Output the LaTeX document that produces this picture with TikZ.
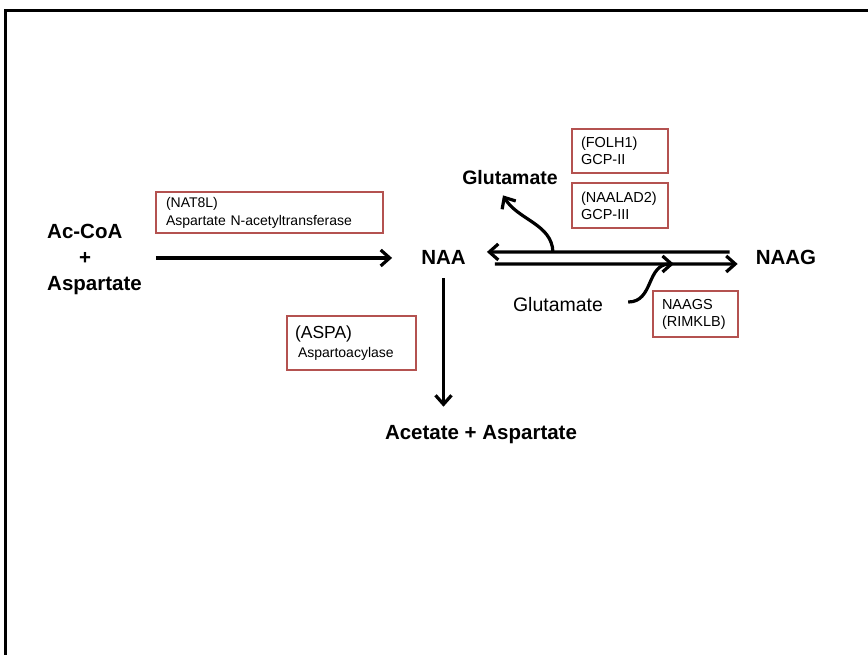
\documentclass[tikz,border=0pt]{standalone}
\usepackage{fontspec}
\setmainfont{Liberation Sans}
\usetikzlibrary{arrows.meta,calc}
\definecolor{boxred}{RGB}{180,82,80}
\begin{document}
\begin{tikzpicture}[x=1pt,y=-1pt,
  arr/.style={line width=3.2pt,-{Straight Barb[length=9pt,width=16pt]}},
  chem/.style={font=\bfseries\fontsize{20.5}{26}\selectfont, inner sep=0pt},
  ebox/.style={draw=boxred,line width=2pt,outer sep=0pt,anchor=north west,align=left,inner xsep=10pt,font=\fontsize{14}{18}\selectfont}]
\useasboundingbox (0,0) rectangle (868,655);
\clip (0,0) rectangle (868,655);
\draw[line width=3pt] (5.5,700) -- (5.5,11) -- (900,11);
% species
\node[chem, anchor=west, align=left] (sub) at (47,259) {Ac-CoA\\\hspace{32pt}+\\Aspartate};
\node[chem, anchor=base] (naa) at (443.5,265) {NAA};
\node[chem, anchor=base] (naag) at (786,265) {NAAG};
\node[chem, anchor=base, font=\bfseries\fontsize{19.5}{24}\selectfont] (glu1) at (510,185) {Glutamate};
\node[anchor=base, inner sep=0pt, font=\fontsize{19.5}{24}\selectfont] (glu2) at (558,312) {Glutamate};
\node[chem, anchor=base] (acet) at (481,439) {Acetate + Aspartate};
% enzymes
\node[ebox, text width=207pt, minimum height=41pt] (nat8l) at (156,192) {(NAT8L)\\Aspartate N-acetyltransferase};
\node[ebox, inner xsep=9pt, text width=78pt, minimum height=44pt, font=\fontsize{14.5}{17}\selectfont] (folh1) at (572,129) {(FOLH1)\\GCP-II};
\node[ebox, inner xsep=9pt, text width=78pt, minimum height=45pt, font=\fontsize{14.5}{17}\selectfont] (naalad2) at (572,183) {(NAALAD2)\\GCP-III};
\node[ebox, inner xsep=9pt, text width=67pt, minimum height=46pt, font=\fontsize{14.5}{17}\selectfont] (naags) at (653,291) {NAAGS\\(RIMKLB)};
\node[ebox, inner xsep=8pt, text width=113pt, minimum height=54pt, font=\fontsize{17.5}{19}\selectfont] (aspa) at (287,316) {(ASPA)\\\hspace{3pt}{\fontsize{14}{19}\selectfont Aspartoacylase}};
% reactions
\draw[arr] ($(sub.east |- naa.west)+(14,0)$) -- ($(naa.west)+(-29,0)$);
\draw[arr] ($(naag.west)+(-26,-6)$) -- ($(naa.east)+(21,-6)$);
\draw[arr] ($(naa.east)+(29,6)$) -- ($(naag.west)+(-18,6)$);
\path (naa.south |- acet.north) coordinate (acTop);
\draw[arr] ($(naa.south)+(0,13)$) -- ($(acTop)+(0,-18)$);
\coordinate (g1) at ($(naa.east)+(87,-6)$);
\coordinate (g2) at ($(naa.east)+(208,6)$);
\draw[arr] (g1) .. controls (552,224) and (518,220) .. ($(glu1.south)+(-7,10)$);
\draw[arr] ($(glu2.east)+(25,-3)$) .. controls (654,302) and (646,264) .. (g2);
\end{tikzpicture}
\end{document}
